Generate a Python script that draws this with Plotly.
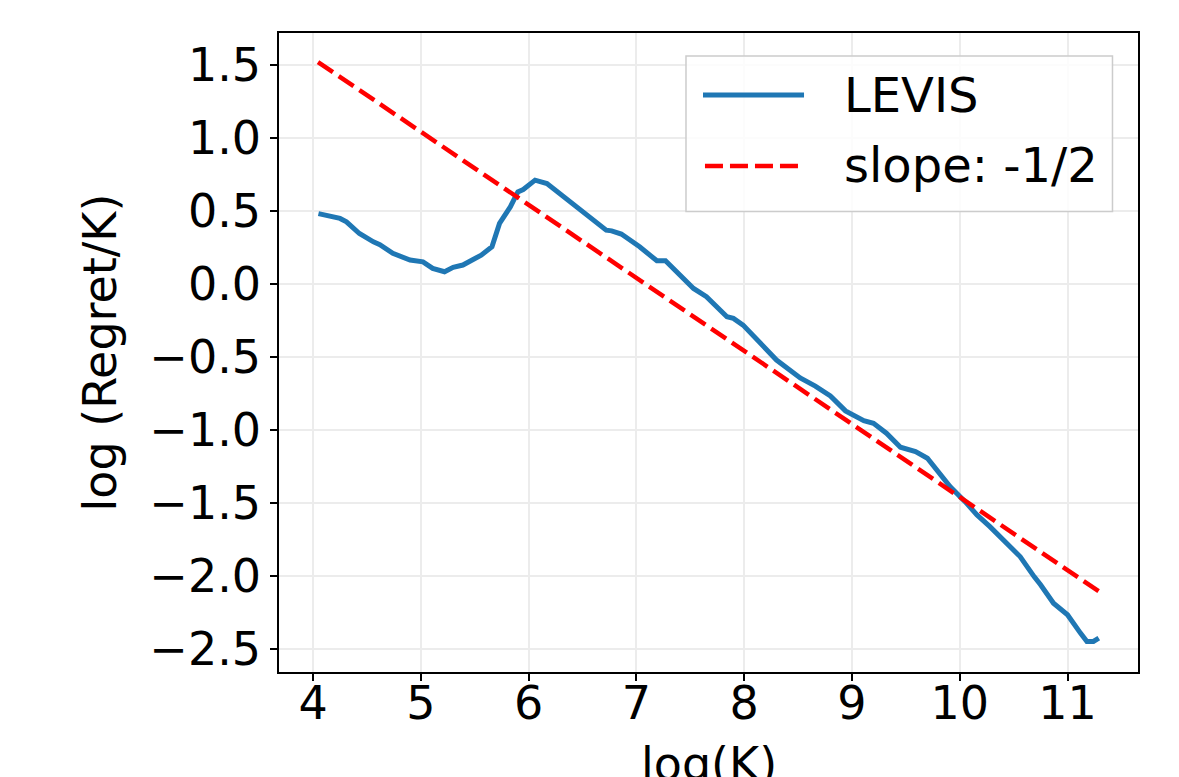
import plotly.graph_objects as go

# LEVIS curve
log_k = [4.05, 4.12, 4.25, 4.31, 4.43, 4.56, 4.62, 4.74, 4.84, 4.90,
         5.02, 5.11, 5.22, 5.30, 5.39, 5.47, 5.56, 5.66, 5.73, 5.83,
         5.90, 5.95, 6.06, 6.17, 6.29, 6.48, 6.60, 6.72, 6.77, 6.86,
         7.03, 7.19, 7.27, 7.53, 7.65, 7.84, 7.90, 7.99, 8.30, 8.52,
         8.66, 8.80, 8.94, 9.11, 9.20, 9.32, 9.45, 9.59, 9.70, 9.79,
         9.91, 10.05, 10.16, 10.28, 10.41, 10.56, 10.69, 10.75, 10.87, 11.00,
         11.12, 11.18, 11.24, 11.29]
log_regret = [0.48, 0.47, 0.447, 0.424, 0.344, 0.287, 0.268, 0.208, 0.184, 0.162,
              0.150, 0.105, 0.082, 0.112, 0.128, 0.162, 0.196, 0.253, 0.413, 0.526,
              0.629, 0.645, 0.709, 0.686, 0.618, 0.504, 0.435, 0.367, 0.362, 0.340,
              0.253, 0.157, 0.157, -0.032, -0.089, -0.226, -0.237, -0.283, -0.522, -0.645,
              -0.70, -0.768, -0.87, -0.937, -0.955, -1.023, -1.119, -1.149, -1.194, -1.274,
              -1.388, -1.491, -1.582, -1.662, -1.753, -1.867, -2.004, -2.060, -2.186, -2.265,
              -2.391, -2.448, -2.448, -2.425]

# reference line with slope -1/2
ref_x = [4.046, 11.29]
ref_y = [1.517, 1.517 - 0.5 * (11.29 - 4.046)]

FONT = "DejaVu Sans"
BLUE = "#1f77b4"

fig = go.Figure()
fig.add_trace(go.Scatter(x=log_k, y=log_regret, mode="lines", name="LEVIS",
                         line=dict(color=BLUE, width=5)))
fig.add_trace(go.Scatter(x=ref_x, y=ref_y, mode="lines", name="slope: -1/2",
                         line=dict(color="red", width=4.5, dash="18px,7px")))

axis_style = dict(showline=True, linecolor="black", linewidth=1.5, mirror=True,
                  ticks="outside", ticklen=7, tickwidth=1.5, tickcolor="black",
                  showgrid=True, gridcolor="#ececec", gridwidth=1.5,
                  zeroline=False, automargin=False,
                  tickfont=dict(size=46, color="black"))

fig.update_xaxes(range=[3.684, 11.654], tickvals=list(range(4, 12)),
                 ticklabelstandoff=-17, **axis_style)
fig.update_yaxes(range=[-2.657, 1.716], tickvals=[1.5, 1.0, 0.5, 0.0, -0.5, -1.0, -1.5, -2.0, -2.5],
                 tickformat=".1f",
                 title=dict(text="log (Regret/K)", font=dict(size=46, color="black"), standoff=18),
                 **axis_style)

# x title sits low, partly below the page edge as in the reference
fig.add_annotation(text="log(K)", xref="paper", yref="paper", x=0.5, y=-0.099,
                   xanchor="center", yanchor="top", showarrow=False,
                   font=dict(size=46, color="black", family=FONT))

# legend drawn by hand so the line samples match the long matplotlib handles
fig.add_shape(type="rect", xref="paper", yref="paper", x0=0.4738, x1=0.9703, y0=0.7207, y1=0.964,
              line=dict(color="#cccccc", width=1.5), fillcolor="rgba(255,255,255,0.85)")
fig.add_shape(type="line", xref="paper", yref="paper", x0=0.4936, x1=0.6112, y0=0.903, y1=0.903,
              line=dict(color=BLUE, width=5))
fig.add_shape(type="line", xref="paper", yref="paper", x0=0.4959, x1=0.6065, y0=0.7919, y1=0.7919,
              line=dict(color="red", width=4.5, dash="18px,7px"))
for label, ypos in [("LEVIS", 0.903), ("slope: -1/2", 0.793)]:
    fig.add_annotation(text=label, xref="paper", yref="paper", x=0.6554, y=ypos,
                       xanchor="left", yanchor="middle", showarrow=False,
                       font=dict(size=48, color="black", family=FONT))

fig.update_layout(
    width=1179, height=777,
    margin=dict(l=271, r=49, t=25, b=113),
    paper_bgcolor="white", plot_bgcolor="white",
    font=dict(family=FONT, color="black"),
    showlegend=False,
)

fig.write_html("out.html")
